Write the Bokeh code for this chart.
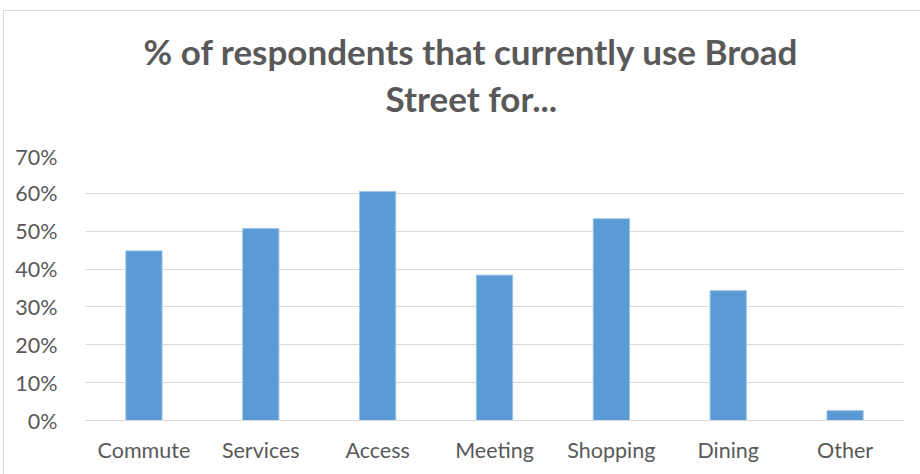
from bokeh.plotting import figure
from bokeh.layouts import column
from bokeh.models import ColumnDataSource, FactorRange, Range1d, NumeralTickFormatter, FixedTicker
from bokeh.core.properties import value
from bokeh.embed import file_html
from bokeh.resources import INLINE

categories = ["Commute", "Services", "Access", "Meeting", "Shopping", "Dining", "Other"]
values = [0.448, 0.507, 0.605, 0.384, 0.533, 0.343, 0.026]
y_ticks = [0.0, 0.1, 0.2, 0.3, 0.4, 0.5, 0.6, 0.7]
title_lines = ["% of respondents that currently use Broad", "Street for..."]

FONT = "Lato"
GRAY = "#595959"
W = 917
TITLE_H = 132

# --- title strip (pixel coordinates, y downward) ---
tf = figure(width=W, height=TITLE_H, x_range=Range1d(0, W), y_range=Range1d(TITLE_H, 0),
            output_backend="svg", toolbar_location=None, min_border=0)
tf.axis.visible = False
tf.grid.visible = False
tf.outline_line_color = None
tf.border_fill_color = "white"
tf.text(x=[432.5, 432.5], y=[39, 86], text=title_lines,
        text_align="center", text_baseline="alphabetic",
        text_font=value(FONT), text_font_style="bold",
        text_font_size="35px", text_color=GRAY)

# --- chart ---
source = ColumnDataSource(data=dict(cat=categories, val=values))
p = figure(
    width=W, height=331,
    x_range=FactorRange(*categories, range_padding=0),
    y_range=Range1d(0, 0.7),
    output_backend="svg", toolbar_location=None,
    min_border_left=81, min_border_right=18,
    min_border_top=12, min_border_bottom=54,
)
p.outline_line_color = None
p.background_fill_color = "white"
p.border_fill_color = "white"

p.vbar(x="cat", top="val", width=0.31, source=source,
       fill_color="#5b9bd5", line_color="#9dc3e6", line_width=1)

p.xgrid.visible = False
p.ygrid.ticker = FixedTicker(ticks=y_ticks)
p.ygrid.grid_line_color = "#d9d9d9"
p.ygrid.grid_line_width = 1.2

p.yaxis.ticker = FixedTicker(ticks=y_ticks)
p.yaxis.formatter = NumeralTickFormatter(format="0%")
p.yaxis.axis_line_color = None
p.yaxis.major_tick_line_color = None
p.yaxis.minor_tick_line_color = None
p.yaxis.major_label_standoff = 22
p.yaxis.major_label_text_font = FONT
p.yaxis.major_label_text_font_size = "21.5px"
p.yaxis.major_label_text_color = GRAY

p.xaxis.axis_line_color = "#d9d9d9"
p.xaxis.axis_line_width = 1.2
p.xaxis.major_tick_line_color = None
p.xaxis.minor_tick_line_color = None
p.xaxis.major_label_standoff = 10
p.xaxis.major_label_text_font = FONT
p.xaxis.major_label_text_font_size = "21.5px"
p.xaxis.major_label_text_color = GRAY

layout = column(tf, p, spacing=0)
layout.margin = (10, 0, 0, 3)
layout.styles = {"border-top": "1px solid #d9d9d9", "border-left": "1px solid #d9d9d9"}

open("out.html", "w").write(file_html(layout, INLINE))
